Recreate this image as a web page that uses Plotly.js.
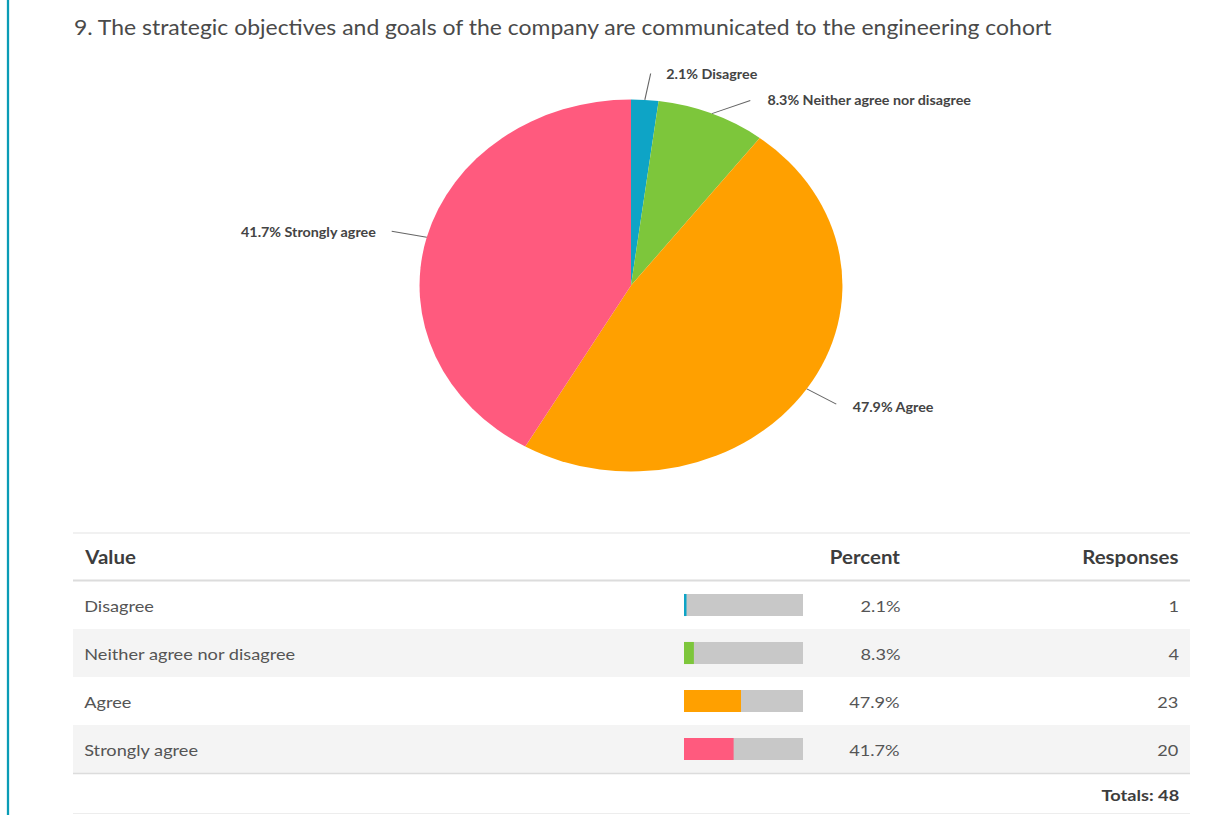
<!DOCTYPE html>
<html>
<head>
<meta charset="utf-8">
<script src="https://cdn.plot.ly/plotly-3.0.1.min.js"></script>
<style>
html,body{margin:0;padding:0;background:#fff;overflow:hidden;}
#chart{width:1060px;height:815px;transform:scaleX(1.13679);transform-origin:0 0;}
</style>
</head>
<body>
<div id="chart"></div>
<script>
// ---- data ----
const titleText = "9. The strategic objectives and goals of the company are communicated to the engineering cohort";
const categories = ["Disagree", "Neither agree nor disagree", "Agree", "Strongly agree"];
const responses = [1, 4, 23, 20];
const percents = [2.1, 8.3, 47.9, 41.7];
const colors = ["#0ea4c6", "#7dc63b", "#ffa000", "#ff5a7e"];
const headers = ["Value", "Percent", "Responses"];

// ---- layout helpers (reference pixel -> paper) ----
const W = 1205, H = 815, S = 1205 / 1060;
const px = x => x / W;
const py = y => 1 - y / H;
const FONT = "Lato, 'Open Sans', sans-serif";
const PAD = 3; // annotation inner padding (ref px)

// pie geometry
const pieCx = 631, pieCy = 285.5, pieR = 186; // r in unscaled px
const pieDom = {x: [px(pieCx - pieR * S), px(pieCx + pieR * S)], y: [py(pieCy + pieR), py(pieCy - pieR)]};

const total = responses.reduce((a, b) => a + b, 0);

// label line ends & text positions (layout)
const lineEnds = [[651, 72], [752, 100], [838, 405], [390, 231]];
const textPos = [[667, 74, "left"], [768, 101, "left"], [853, 407, "left"], [375, 232, "right"]];

const annotations = [];
let cum = 0;
responses.forEach((v, i) => {
  const mid = (cum + v / 2) / total * 2 * Math.PI;
  cum += v;
  const ex = pieCx + pieR * S * Math.sin(mid);
  const ey = pieCy - pieR * Math.cos(mid);
  annotations.push({
    xref: "paper", yref: "paper", x: px(ex), y: py(ey),
    ax: (lineEnds[i][0] - ex) / S, ay: lineEnds[i][1] - ey,
    text: "", showarrow: true, arrowhead: 0, arrowwidth: 1, arrowcolor: "#666", standoff: 0, startstandoff: 0
  });
  const tx = textPos[i][2] === "left" ? textPos[i][0] - PAD : textPos[i][0] + PAD;
  annotations.push({
    xref: "paper", yref: "paper", x: px(tx), y: py(textPos[i][1]),
    xanchor: textPos[i][2], yanchor: "middle", showarrow: false,
    text: "<b>" + percents[i].toFixed(1) + "% " + categories[i] + "</b>",
    font: {family: FONT, size: 12.6, color: "#444"}
  });
});

// title
annotations.push({
  xref: "paper", yref: "paper", x: px(75 - PAD), y: py(27), xanchor: "left", yanchor: "middle",
  showarrow: false, text: titleText, font: {family: FONT, size: 20.2, color: "#4a4a4a"}
});

// table header
const headX = [[85 - PAD, "left"], [900 + PAD, "right"], [1178 + PAD, "right"]];
headers.forEach((h, i) => {
  annotations.push({
    xref: "paper", yref: "paper", x: px(headX[i][0]), y: py(557), xanchor: headX[i][1], yanchor: "middle",
    showarrow: false, text: "<b>" + h + "</b>", font: {family: FONT, size: 18, color: "#3d3d3d"}
  });
});

// table rows
categories.forEach((c, i) => {
  annotations.push({xref: "paper", yref: "y", x: px(85 - PAD), y: i, xanchor: "left", yanchor: "middle", showarrow: false,
    text: c, font: {family: FONT, size: 16, color: "#555"}});
  annotations.push({xref: "paper", yref: "y", x: px(900 + PAD), y: i, xanchor: "right", yanchor: "middle", showarrow: false,
    text: percents[i].toFixed(1) + "%", font: {family: FONT, size: 16, color: "#555"}});
  annotations.push({xref: "paper", yref: "y", x: px(1178 + PAD), y: i, xanchor: "right", yanchor: "middle", showarrow: false,
    text: String(responses[i]), font: {family: FONT, size: 16, color: "#555"}});
});

annotations.push({
  xref: "paper", yref: "paper", x: px(1178 + PAD), y: py(794), xanchor: "right", yanchor: "middle",
  showarrow: false, text: "<b>Totals: " + total + "</b>", font: {family: FONT, size: 16, color: "#3d3d3d"}
});

// shapes
const shapes = [
  {type: "line", xref: "paper", yref: "paper", x0: px(8), x1: px(8), y0: 0, y1: 1, line: {color: "#0a9cb6", width: 2}},
  {type: "line", xref: "paper", yref: "paper", x0: px(73), x1: px(1190), y0: py(533), y1: py(533), line: {color: "#e3e3e3", width: 1}},
  {type: "line", xref: "paper", yref: "paper", x0: px(73), x1: px(1190), y0: py(580.5), y1: py(580.5), line: {color: "#dcdcdc", width: 2}},
  {type: "line", xref: "paper", yref: "paper", x0: px(73), x1: px(1190), y0: py(773.5), y1: py(773.5), line: {color: "#dcdcdc", width: 1.5}},
  {type: "line", xref: "paper", yref: "paper", x0: px(73), x1: px(1190), y0: py(813.5), y1: py(813.5), line: {color: "#ededed", width: 1}}
];
categories.forEach((c, i) => {
  if (i % 2 === 1) {
    shapes.push({type: "rect", xref: "paper", yref: "y", x0: px(73), x1: px(1190), y0: i - 0.5, y1: i + 0.5,
      fillcolor: "#f4f4f4", line: {width: 0}, layer: "below"});
  }
});

const rowIdx = categories.map((c, i) => i);

const traces = [
  {
    type: "pie", values: responses, labels: categories, sort: false, direction: "clockwise", rotation: 0,
    marker: {colors: colors, line: {width: 0}}, textinfo: "none", hoverinfo: "label+percent",
    domain: pieDom, showlegend: false
  },
  {
    type: "bar", orientation: "h", x: categories.map(() => 100), y: rowIdx, width: 0.46,
    marker: {color: "#c8c8c8"}, xaxis: "x", yaxis: "y", hoverinfo: "skip", showlegend: false
  },
  {
    type: "bar", orientation: "h", x: percents, y: rowIdx, width: 0.46,
    marker: {color: colors}, xaxis: "x", yaxis: "y", hoverinfo: "x", showlegend: false
  }
];

const layout = {
  width: 1060, height: 815,
  margin: {l: 0, r: 0, t: 0, b: 0, autoexpand: false},
  paper_bgcolor: "#fff", plot_bgcolor: "rgba(0,0,0,0)",
  barmode: "overlay", showlegend: false,
  xaxis: {domain: [px(684), px(803)], range: [0, 100], visible: false, fixedrange: true},
  yaxis: {domain: [py(773), py(581)], range: [3.5, -0.5], visible: false, fixedrange: true},
  annotations: annotations, shapes: shapes,
  font: {family: FONT}
};

Plotly.newPlot("chart", traces, layout, {displayModeBar: false, staticPlot: true});
</script>
</body>
</html>
